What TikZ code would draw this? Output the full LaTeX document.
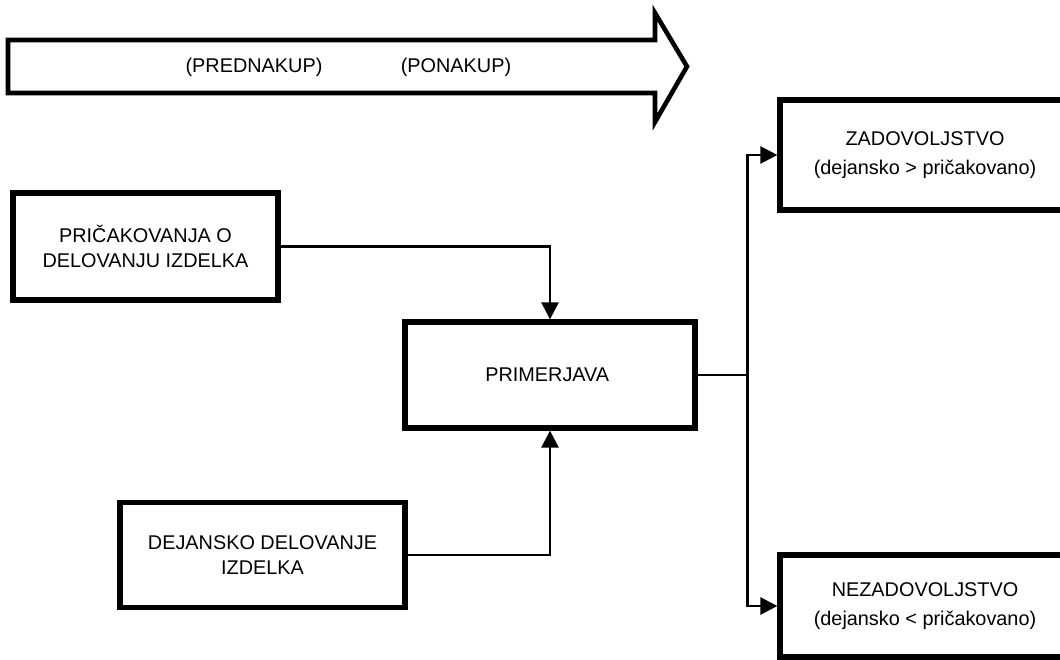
\documentclass[tikz,border=0pt]{standalone}
\usepackage{fontspec}
\setsansfont{Liberation Sans}
\usetikzlibrary{arrows.meta}

\begin{document}
\begin{tikzpicture}
\tikzstyle{every node} = [font = \sffamily\fontsize{11.3}{14.2}\selectfont]
\tikzstyle{okvir} = [draw, line width=3pt, align=center, inner sep=0pt]
\tikzstyle{vez} = [line width=1.5pt]
\tikzstyle{puscica} = [vez, -{Triangle[length=0.34cm,width=0.34cm]}]

\useasboundingbox (0,0) rectangle (21.2,13.2);
\clip (0,0) rectangle (21.2,13.2);

% casovna puscica
\draw[line width=2.6pt, line join=miter] (0.16,12.4) -- (13.1,12.4) -- (13.1,12.94)
  -- (13.74,11.87) -- (13.1,10.76) -- (13.1,11.34) -- (0.16,11.34) -- cycle;
\node (pred) at (5.08, 11.86) {(PREDNAKUP)};
\node (po) at (9.12, 11.86) {(PONAKUP)};

\node[okvir, minimum width=5.3cm, minimum height=2.14cm] (pric) at (2.91, 8.27) {
  PRIČAKOVANJA O\\
  DELOVANJU IZDELKA
};

\node[okvir, minimum width=5.8cm, minimum height=2.12cm] (prim) at (11.0, 5.7) {
  PRIMERJAVA
};

\node[okvir, minimum width=5.7cm, minimum height=2.1cm] (dej) at (5.25, 2.1) {
  DEJANSKO DELOVANJE\\
  IZDELKA
};

\node[okvir, minimum width=5.8cm, minimum height=2.2cm] (zad) at (18.5, 10.1) {
  ZADOVOLJSTVO\\[2pt]
  (dejansko > pričakovano)
};

\node[okvir, minimum width=5.8cm, minimum height=2.04cm] (nez) at (18.5, 1.08) {
  NEZADOVOLJSTVO\\[2pt]
  (dejansko < pričakovano)
};

% vhodi v primerjavo
\draw[puscica] (pric.east) -| (prim.north);
\draw[puscica] (dej.east) -| (prim.south);

% izid primerjave
\draw[vez] (prim.east) -- ++(1.0, 0) coordinate (razcep);
\draw[puscica] (razcep) |- (zad.west);
\draw[puscica] (razcep) |- (nez.west);

\end{tikzpicture}
\end{document}
